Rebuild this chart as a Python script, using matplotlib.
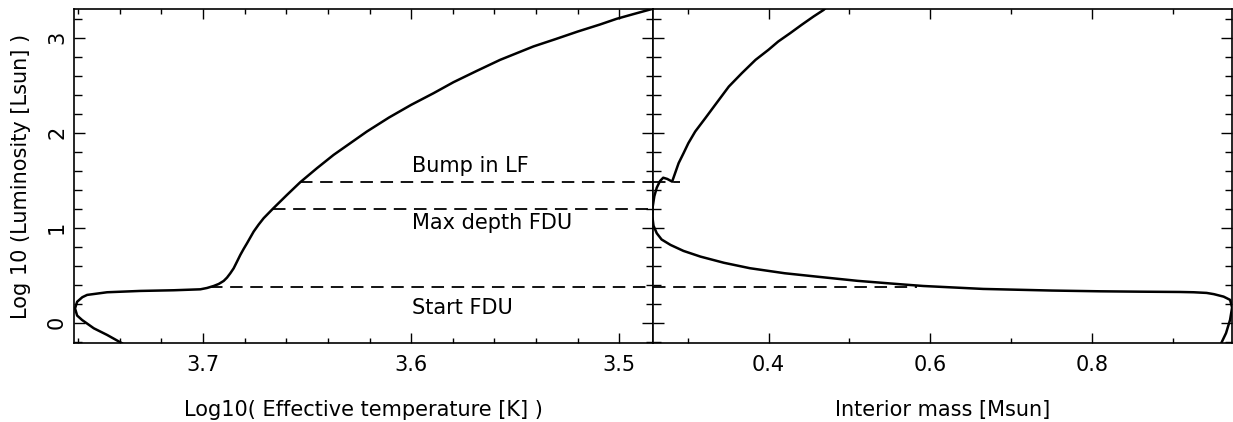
import matplotlib
matplotlib.use("Agg")
import matplotlib.pyplot as plt
from matplotlib.ticker import MultipleLocator, FormatStrFormatter

# ---------------- data ----------------
# HR diagram track (left panel)
hr_logteff = [3.737, 3.7389, 3.7461, 3.7525, 3.7581, 3.7605, 3.7615, 3.7605, 3.7580,
              3.7557, 3.7461, 3.7301, 3.7141, 3.7013, 3.6981, 3.6949, 3.6925, 3.6901,
              3.6885, 3.6869, 3.6853, 3.6837, 3.6821, 3.6805, 3.6789, 3.6757, 3.6733,
              3.6709, 3.6664, 3.6597, 3.6533, 3.6453, 3.6373, 3.6293,
              3.6213, 3.6107, 3.6000, 3.5893, 3.5797, 3.5685, 3.5573, 3.5413, 3.5307,
              3.5200, 3.5093, 3.5013, 3.4933, 3.4840, 3.478]
hr_logL = [-0.25, -0.217, -0.129, -0.059, 0.028, 0.075, 0.15, 0.22, 0.268,
           0.292, 0.320, 0.334, 0.341, 0.351, 0.365, 0.386, 0.407, 0.439,
           0.474, 0.520, 0.572, 0.642, 0.713, 0.776, 0.835, 0.958, 1.032,
           1.099, 1.200, 1.344, 1.478, 1.625, 1.765, 1.888,
           2.011, 2.158, 2.292, 2.414, 2.530, 2.649, 2.765, 2.906, 2.983,
           3.063, 3.137, 3.197, 3.246, 3.302, 3.34]

# interior mass track (right panel)
m_mass = [0.957, 0.959, 0.965, 0.970, 0.9725, 0.970, 0.962, 0.950, 0.941, 0.925,
          0.908, 0.86, 0.81, 0.75, 0.665, 0.591, 0.563, 0.51, 0.46, 0.42,
          0.377, 0.345, 0.316, 0.295, 0.279, 0.268, 0.262, 0.258, 0.2565, 0.257,
          0.259, 0.262, 0.266, 0.270, 0.275, 0.281, 0.289, 0.2951, 0.301, 0.3095,
          0.322, 0.3342, 0.351, 0.3671, 0.384, 0.4000, 0.412, 0.4268, 0.441,
          0.4556, 0.468, 0.472]
m_logL = [-0.25, -0.217, -0.11, 0.03, 0.16, 0.24, 0.274, 0.300, 0.313, 0.320,
          0.323, 0.326, 0.330, 0.338, 0.355, 0.386, 0.404, 0.44, 0.484, 0.52,
          0.573, 0.630, 0.695, 0.755, 0.818, 0.875, 0.941, 1.02, 1.12, 1.22,
          1.33, 1.42, 1.49, 1.525, 1.512, 1.484, 1.678, 1.783, 1.888, 2.011,
          2.152, 2.292, 2.484, 2.625, 2.765, 2.871, 2.958, 3.046, 3.134,
          3.221, 3.29, 3.32]

# event markers (dashed lines)
event_names = ["Start FDU", "Max depth FDU", "Bump in LF"]
event_logL = [0.379, 1.200, 1.478]
event_teff_start = [3.6965, 3.6664, 3.6533]
event_mass_end = [0.583, 0.257, 0.291]

# axis ranges
teff_lim = (3.762, 3.484)
mass_lim = (0.257, 0.972)
logL_lim = (-0.217, 3.30)

# ---------------- figure ----------------
plt.rcParams['font.family'] = ['DejaVu Sans']
plt.rcParams['lines.scale_dashes'] = False
W, H = 1233, 422
fig = plt.figure(figsize=(W / 100, H / 100), dpi=100)

x0, x1, x2 = 74, 652.7, 1231.7
ytop, ybot = 9, 343.3
axL = fig.add_axes([x0 / W, (H - ybot) / H, (x1 - x0) / W, (ybot - ytop) / H])
axR = fig.add_axes([x1 / W, (H - ybot) / H, (x2 - x1) / W, (ybot - ytop) / H])

lw_curve = 1.8
lw_dash = 1.3
dash = (9.0, 5.5)
fs = 15

axL.plot(hr_logteff, hr_logL, color='black', lw=lw_curve, solid_joinstyle='round')
axR.plot(m_mass, m_logL, color='black', lw=lw_curve, solid_joinstyle='round')

for name, L, t0, m1 in zip(event_names, event_logL, event_teff_start, event_mass_end):
    axL.plot([t0, teff_lim[1]], [L, L], color='black', lw=lw_dash, dashes=dash)
    if m1 > mass_lim[0]:
        axR.plot([mass_lim[0], m1], [L, L], color='black', lw=lw_dash, dashes=dash)

# annotation text (baseline positions)
text_x = 3.5995
text_y = {"Bump in LF": 1.589, "Max depth FDU": 0.989, "Start FDU": 0.0916}
for name in event_names:
    axL.text(text_x, text_y[name], name, fontsize=fs, ha='left', va='baseline')

axL.set_xlim(*teff_lim)
axR.set_xlim(*mass_lim)
for ax in (axL, axR):
    ax.set_ylim(*logL_lim)
    ax.yaxis.set_major_locator(MultipleLocator(1))
    ax.yaxis.set_minor_locator(MultipleLocator(0.2))
    for s in ax.spines.values():
        s.set_linewidth(1.2)
    ax.tick_params(axis='both', which='both', direction='in', top=True, bottom=True,
                   left=True, right=True, width=1.0, labelsize=fs)
    ax.tick_params(axis='x', which='major', length=7.2, pad=8.5)
    ax.tick_params(axis='x', which='minor', length=3.6)
    ax.tick_params(axis='y', which='major', length=7.9)
    ax.tick_params(axis='y', which='minor', length=5.4)

axL.xaxis.set_major_locator(MultipleLocator(0.1))
axL.xaxis.set_minor_locator(MultipleLocator(0.02))
axL.xaxis.set_major_formatter(FormatStrFormatter('%.1f'))
axR.xaxis.set_major_locator(MultipleLocator(0.2))
axR.xaxis.set_minor_locator(MultipleLocator(0.1))
axR.xaxis.set_major_formatter(FormatStrFormatter('%.1f'))

axL.yaxis.set_major_formatter(FormatStrFormatter('%d'))
axL.tick_params(axis='y', which='major', labelrotation=90, pad=5)
for lab in axL.get_yticklabels():
    lab.set_va('center')
axR.tick_params(axis='y', labelleft=False)

fig.text(21 / W, 0.5 * ((H - ybot) + (H - ytop)) / H, "Log 10 (Luminosity [Lsun] )",
         rotation=90, ha='center', va='center', fontsize=fs)
fig.text((x0 + x1) / 2 / W, (H - 415.7) / H, "Log10( Effective temperature [K] )",
         ha='center', va='baseline', fontsize=fs)
fig.text((x1 + x2) / 2 / W, (H - 415.7) / H, "Interior mass [Msun]",
         ha='center', va='baseline', fontsize=fs)

fig.savefig("out.png", dpi=100)
